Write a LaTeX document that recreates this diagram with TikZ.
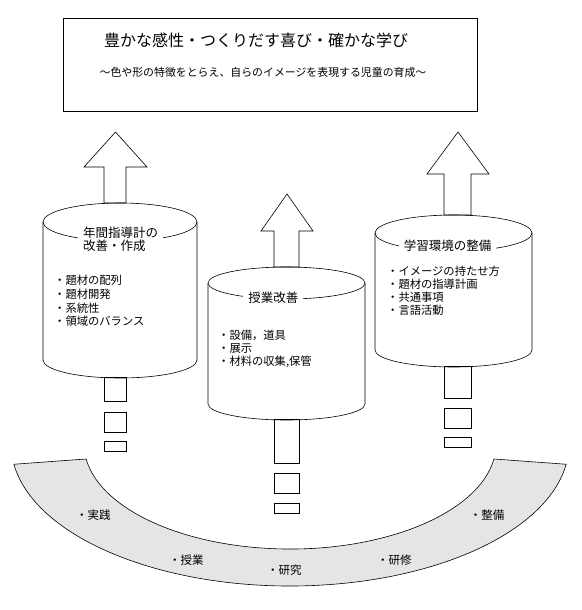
\documentclass[tikz,border=0pt]{standalone}
\usepackage{fontspec}
\setmainfont{Noto Sans CJK JP}
\tikzset{
  ln/.style={line width=0.6pt, draw=black},
  ttl/.style={inner sep=0pt, font=\fontsize{16}{18}\selectfont},
  sub/.style={inner sep=0pt, font=\fontsize{10.9}{12}\selectfont},
  lbl/.style={fill=white, inner xsep=5pt, inner ysep=2pt, font=\fontsize{12.5}{12.8}\selectfont},
  itm/.style={anchor=west, inner sep=0pt, font=\fontsize{11.3}{13}\selectfont},
  band/.style={anchor=west, inner sep=0pt, font=\fontsize{11.5}{13}\selectfont},
  box/.style={ln, fill=white, inner sep=0pt, anchor=north west}
}
\begin{document}
\begin{tikzpicture}[x=1pt,y=1pt]
\useasboundingbox (0,0) rectangle (581,-610);

% goal box
\node[box, minimum width=414pt, minimum height=93pt] (goal) at (63,-18) {};
\node[ttl] (title) at (256,-40) {豊かな感性・つくりだす喜び・確かな学び};
\node[sub] (subtitle) at (263,-72) {～色や形の特徴をとらえ、自らのイメージを表現する児童の育成～};

% up arrows
\draw[ln] (104,-203) -- (104,-167) -- (84,-167) -- (115.5,-132) -- (147,-167) -- (126,-167) -- (126,-203) -- cycle;
\draw[ln] (274,-267) -- (274,-231) -- (261,-231) -- (287,-194) -- (313,-231) -- (299,-231) -- (299,-267) -- cycle;
\draw[ln] (444,-215) -- (444,-174) -- (427,-174) -- (458,-132) -- (489,-174) -- (471,-174) -- (471,-215) -- cycle;

% cylinders
\draw[ln] (43,-222) -- (43,-360) arc[start angle=180,end angle=360,x radius=77,y radius=18] -- (197,-222);
\draw[ln] (120,-222) ellipse [x radius=77, y radius=19];
\draw[ln] (208,-283) -- (208,-404) arc[start angle=180,end angle=360,x radius=78.5,y radius=16] -- (365,-283);
\draw[ln] (286.5,-283) ellipse [x radius=78.5, y radius=16];
\draw[ln] (375,-233) -- (375,-350) arc[start angle=180,end angle=360,x radius=78.5,y radius=17] -- (532,-233);
\draw[ln] (453.5,-233) ellipse [x radius=78.5, y radius=18];

% cylinder labels
\node[lbl, align=left] (plan) at (120.7,-239) {年間指導計の\\改善・作成};
\node[lbl] (lesson) at (273.3,-298) {授業改善};
\node[lbl] (env) at (447.5,-246) {学習環境の整備};

% items
\node[itm] (p1) at (54,-280.5) {・題材の配列};
\node[itm] (p2) at (54,-294.2) {・題材開発};
\node[itm] (p3) at (54,-307.9) {・系統性};
\node[itm] (p4) at (54,-321.6) {・領域のバランス};
\node[itm] (l1) at (218,-335.7) {・設備，道具};
\node[itm] (l2) at (218,-348.7) {・展示};
\node[itm] (l3) at (218,-361.7) {・材料の収集,保管};
\node[itm] (e1) at (387,-271.7) {・イメージの持たせ方};
\node[itm] (e2) at (387,-284.7) {・題材の指導計画};
\node[itm] (e3) at (387,-297.7) {・共通事項};
\node[itm] (e4) at (387,-310.7) {・言語活動};

% stacks below cylinders
\draw[ln] (104,-377) rectangle (126,-401);
\draw[ln] (104,-412) rectangle (126,-432);
\draw[ln] (104,-441) rectangle (126,-451);
\draw[ln] (274,-419) rectangle (299,-463);
\draw[ln] (274,-473) rectangle (299,-493);
\draw[ln] (274,-503) rectangle (299,-513);
\draw[ln] (444,-366) rectangle (471,-398);
\draw[ln] (444,-408) rectangle (471,-428);
\draw[ln] (444,-437) rectangle (471,-447);

% band
\draw[ln, fill=gray!20] (13.9,-464.25) arc[start angle=188.2, end angle=351.8, x radius=279, y radius=142]
  -- (493.9,-459) arc[start angle=351.8, end angle=188.2, x radius=206, y radius=105] -- cycle;
\node[band] (b1) at (76,-515) {・実践};
\node[band] (b2) at (169,-560) {・授業};
\node[band] (b3) at (267,-570) {・研究};
\node[band] (b4) at (377,-560) {・研修};
\node[band] (b5) at (469.6,-515) {・整備};
\end{tikzpicture}
\end{document}
